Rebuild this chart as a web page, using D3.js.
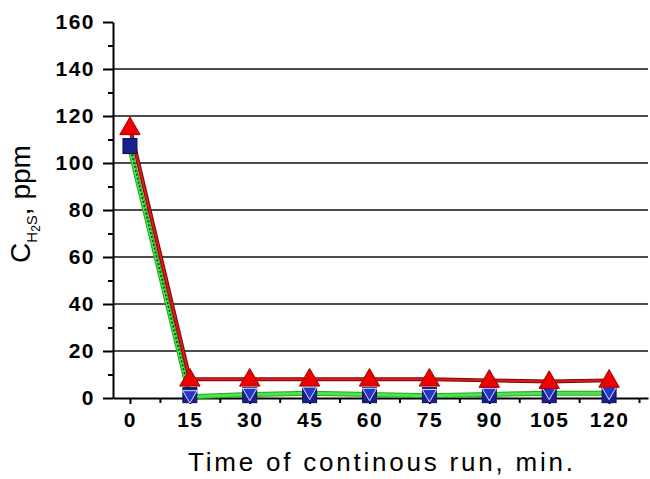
<!DOCTYPE html>
<html lang="en">
<head>
    <meta charset="UTF-8">
    <title>H2S concentration vs time</title>
    <script src="https://d3js.org/d3.v7.min.js"></script>
    <style>
        body { margin: 0; background: #fff; }
        svg { display: block; font-family: "Liberation Sans", Arial, sans-serif; }
        .tick text { font-weight: bold; font-size: 21px; letter-spacing: 1.5px; fill: #000; }
        .domain, .tick line { stroke: #000; stroke-width: 2px; }
    </style>
</head>
<body>
<svg id="chart" width="650" height="479"></svg>
<script>
    // time points, min
    const times = [0, 15, 30, 45, 60, 75, 90, 105, 120];
    // H2S concentration, ppm
    const redSeries = [115, 8, 8, 8, 8, 8, 7.5, 7, 7.5];
    const blueSeries = [107, 1, 1, 1, 1, 1, 1, 1, 1];
    const greenSeries = [106, 0.5, 1.5, 2, 1.5, 1, 1.5, 2, 2];

    const xTicks = [0, 15, 30, 45, 60, 75, 90, 105, 120];
    const xMinor = [7.5, 22.5, 37.5, 52.5, 67.5, 82.5, 97.5, 112.5, 127.5];
    const yTicks = [0, 20, 40, 60, 80, 100, 120, 140, 160];
    const yMinor = [10, 30, 50, 70, 90, 110, 130, 150];
    const gridValues = [20, 40, 60, 80, 100, 120, 140];

    const svg = d3.select("#chart");

    const x = d3.scaleLinear().domain([-4.25, 129.75]).range([113, 648]);
    const y = d3.scaleLinear().domain([0, 160]).range([398, 22]);

    // gridlines
    svg.append("g").selectAll("line")
        .data(gridValues)
        .enter().append("line")
        .attr("x1", x(-4.25)).attr("x2", x(129.75))
        .attr("y1", d => y(d)).attr("y2", d => y(d))
        .attr("stroke", "#111").attr("stroke-width", 1.6);

    // minor ticks
    svg.append("g")
        .attr("transform", `translate(0,${y(0)})`)
        .call(d3.axisBottom(x).tickValues(xMinor).tickSize(5).tickSizeOuter(0).tickFormat(""))
        .call(g => g.select(".domain").remove());
    svg.append("g")
        .attr("transform", `translate(${x(-4.25)},0)`)
        .call(d3.axisLeft(y).tickValues(yMinor).tickSize(5).tickSizeOuter(0).tickFormat(""))
        .call(g => g.select(".domain").remove());

    // major axes
    svg.append("g")
        .attr("transform", `translate(0,${y(0)})`)
        .call(d3.axisBottom(x).tickValues(xTicks).tickSize(6).tickSizeOuter(0).tickPadding(8));
    svg.append("g")
        .attr("transform", `translate(${x(-4.25)},0)`)
        .call(d3.axisLeft(y).tickValues(yTicks).tickSize(10).tickSizeOuter(0).tickPadding(8));

    const pts = s => times.map((t, i) => [t, s[i]]);
    const line = d3.line().x(d => x(d[0])).y(d => y(d[1]));

    // lines
    svg.append("path").datum(pts(greenSeries))
        .attr("d", line).attr("fill", "none")
        .attr("stroke", "#2aa52a").attr("stroke-width", 5);
    svg.append("path").datum(pts(greenSeries))
        .attr("d", line).attr("fill", "none")
        .attr("stroke", "#4ae64a").attr("stroke-width", 3);
    svg.append("path").datum(pts(blueSeries).slice(0, 2))
        .attr("d", line).attr("fill", "none")
        .attr("stroke", "#0a3a0a").attr("stroke-width", 1.5)
        .attr("stroke-dasharray", "2,2");
    svg.append("path").datum(pts(redSeries))
        .attr("d", line).attr("fill", "none")
        .attr("stroke", "#7a0a0a").attr("stroke-width", 4);
    svg.append("path").datum(pts(redSeries))
        .attr("d", line).attr("fill", "none")
        .attr("stroke", "#e01818").attr("stroke-width", 2);

    // markers
    svg.append("g").selectAll("rect")
        .data(pts(blueSeries))
        .enter().append("rect")
        .attr("x", d => x(d[0]) - 7).attr("y", d => y(d[1]) - 8)
        .attr("width", 14).attr("height", 15)
        .attr("fill", "#1a1f8c").attr("stroke", "#0a0f5a").attr("stroke-width", 1);

    const triDown = d3.symbol().type(d3.symbolTriangle).size(90);
    svg.append("g").selectAll("path")
        .data(pts(greenSeries).slice(1))
        .enter().append("path")
        .attr("d", triDown)
        .attr("transform", d => `translate(${x(d[0])},${y(d[1]) - 2}) rotate(180)`)
        .attr("fill", "#2438c8").attr("stroke", "#d8dcff").attr("stroke-width", 1);

    const triUp = d3.symbol().type(d3.symbolTriangle).size(180);
    svg.append("g").selectAll("path")
        .data(pts(redSeries))
        .enter().append("path")
        .attr("d", triUp)
        .attr("transform", d => `translate(${x(d[0])},${y(d[1]) + 1})`)
        .attr("fill", "#ee0000").attr("stroke", "#a00000").attr("stroke-width", 1);

    // axis titles
    const yTitle = svg.append("text")
        .attr("transform", "translate(30,204) rotate(-90)")
        .attr("text-anchor", "middle")
        .attr("font-size", 28)
        .attr("fill", "#000");
    yTitle.append("tspan").text("C");
    yTitle.append("tspan").attr("font-size", 15).attr("dy", 7).text("H");
    yTitle.append("tspan").attr("font-size", 12).attr("dy", 3).text("2");
    yTitle.append("tspan").attr("font-size", 15).attr("dy", -3).text("S");
    yTitle.append("tspan").attr("dy", -7).text(", ppm");

    svg.append("text")
        .attr("x", 188).attr("y", 471)
        .attr("font-size", 26)
        .attr("textLength", 385)
        .attr("lengthAdjust", "spacing")
        .attr("fill", "#000")
        .text("Time of continous run, min.");
</script>
</body>
</html>
